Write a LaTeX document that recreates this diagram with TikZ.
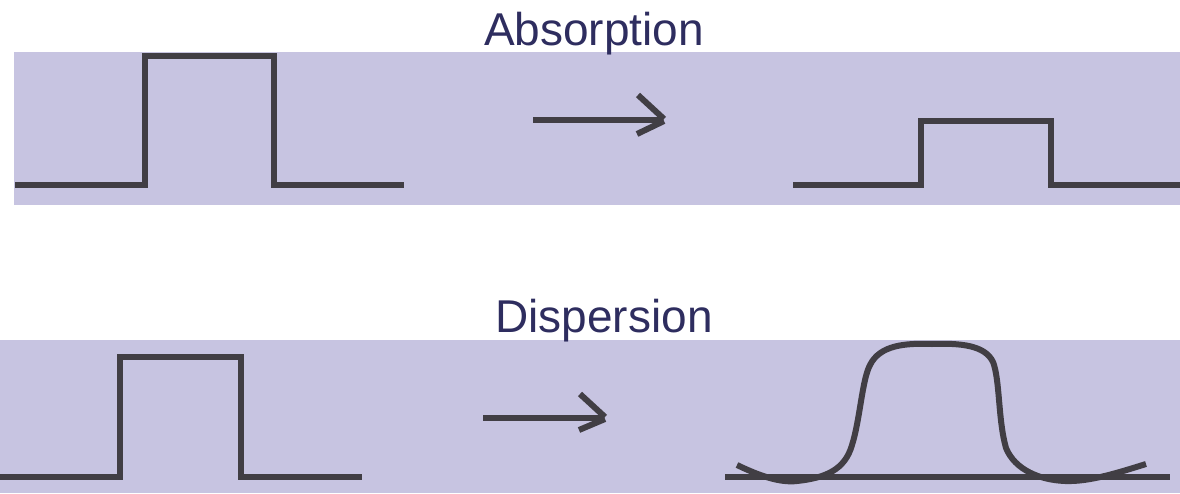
\documentclass[tikz,border=0pt]{standalone}
\usepackage{fontspec}
\setmainfont{Liberation Sans}
\definecolor{band}{HTML}{C7C4E1}
\definecolor{ink}{HTML}{413E44}
\definecolor{titlec}{HTML}{2E2D5F}
\begin{document}
\begin{tikzpicture}[x=1pt,y=-1pt,
  pulse/.style={draw=ink,line width=6.5pt,line join=miter},
  shaft/.style={draw=ink,line width=6pt},
  title/.style={anchor=base,inner sep=0pt,font=\fontsize{46}{50}\selectfont,text=titlec}]
\useasboundingbox (0,0) rectangle (1180,493);
% bands
\fill[band] (14,52) rectangle (1180,205);
\fill[band] (0,340) rectangle (1180,493);
% titles
\node[title] (t1) at (594,45.5) {Absorption};
\node[title] (t2) at (604,332) {Dispersion};
% top left pulse
\draw[pulse] (15,185) -- (145,185) -- (145,56) -- (274,56) -- (274,185) -- (404,185);
% top arrow
\coordinate (a1s) at (533,120);
\coordinate (a1e) at (663,120);
\draw[shaft] (a1s) -- (a1e);
\draw[shaft] (638,95) -- (664,119);
\draw[shaft] (637,134) -- (664,121);
% top right pulse
\draw[pulse] (793,185) -- (921,185) -- (921,121) -- (1051,121) -- (1051,185) -- (1180,185);
% bottom left pulse
\draw[pulse] (0,477) -- (120,477) -- (120,357) -- (241,357) -- (241,477) -- (362,477);
% bottom arrow
\coordinate (a2s) at (483,418);
\coordinate (a2e) at (604,418);
\draw[shaft] (a2s) -- (a2e);
\draw[shaft] (580,394) -- (605,417);
\draw[shaft] (579,430) -- (605,419);
% bottom right
\draw[pulse] (725,477) -- (1170,477);
\draw[draw=ink,line width=6pt]
  (737,465) .. controls (760,476) and (780,483) .. (797,481)
  .. controls (825,478) and (845,470) .. (852,445)
  .. controls (860,420) and (862,380) .. (870,365)
  .. controls (880,345) and (905,343) .. (932,344)
  .. controls (960,343) and (985,345) .. (993,362)
  .. controls (1000,380) and (998,420) .. (1006,448)
  .. controls (1015,470) and (1040,480) .. (1065,481)
  .. controls (1090,482) and (1120,472) .. (1146,464);
\end{tikzpicture}
\end{document}
